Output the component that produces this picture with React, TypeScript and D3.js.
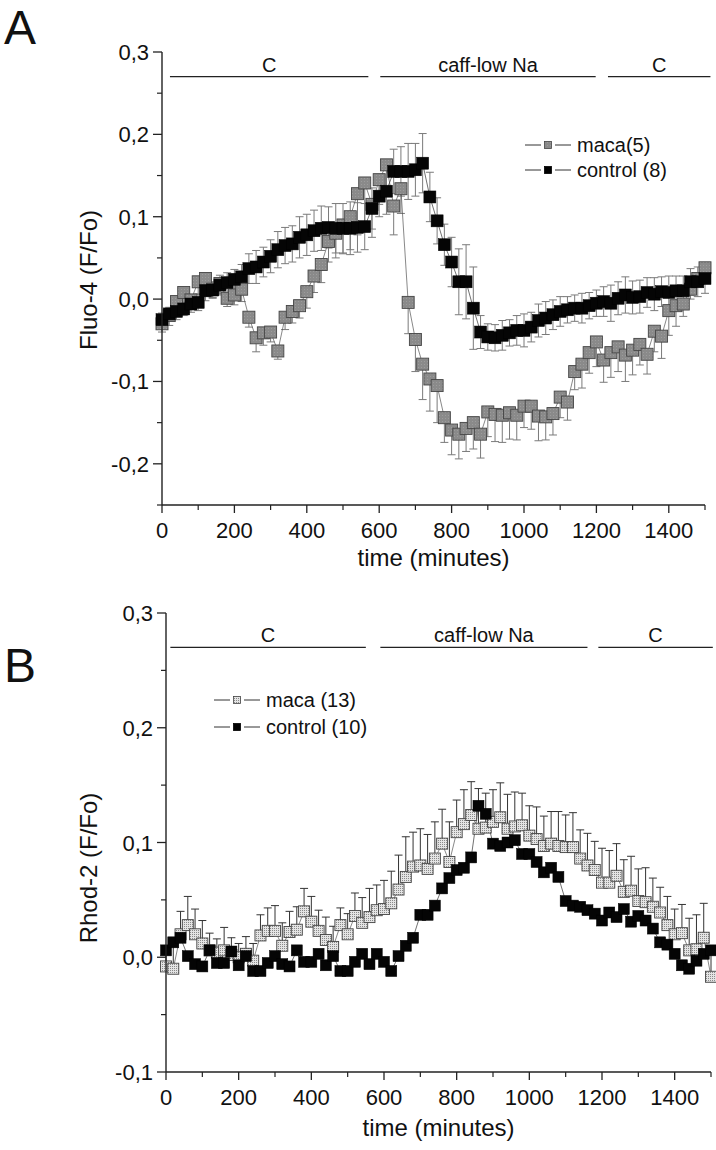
import React from "react";
import * as d3 from "d3";

const times = [0,20,40,60,80,100,120,140,160,180,200,220,240,260,280,300,320,340,360,380,400,420,440,460,480,500,520,540,560,580,600,620,640,660,680,700,720,740,760,780,800,820,840,860,880,900,920,940,960,980,1000,1020,1040,1060,1080,1100,1120,1140,1160,1180,1200,1220,1240,1260,1280,1300,1320,1340,1360,1380,1400,1420,1440,1460,1480,1500];

const macaA = [
  -0.030,-0.020,-0.003,0.008,-0.001,0.021,0.025,0.012,0.019,0.001,
  0.005,0.012,-0.022,-0.047,-0.041,-0.040,-0.063,-0.022,-0.015,-0.008,
  0.009,0.028,0.042,0.070,0.080,0.090,0.100,0.128,0.141,0.115,
  0.145,0.163,0.113,0.134,-0.004,-0.049,-0.079,-0.097,-0.105,-0.144,
  -0.159,-0.164,-0.157,-0.150,-0.164,-0.137,-0.140,-0.141,-0.138,-0.141,
  -0.130,-0.130,-0.142,-0.143,-0.139,-0.119,-0.125,-0.088,-0.079,-0.065,
  -0.052,-0.074,-0.065,-0.058,-0.068,-0.062,-0.055,-0.067,-0.039,-0.045,
  -0.014,-0.008,-0.006,0.012,0.025,0.038];
const macaErrA = [
  0.010,0.012,0.010,0.012,0.010,0.015,0.012,0.010,0.012,0.010,
  0.012,0.015,0.012,0.017,0.015,0.012,0.010,0.015,0.014,0.015,
  0.020,0.020,0.022,0.025,0.030,0.035,0.040,0.050,0.055,0.040,
  0.030,0.030,0.035,0.030,0.038,0.039,0.043,0.039,0.045,0.030,
  0.030,0.030,0.028,0.032,0.029,0.030,0.033,0.033,0.032,0.030,
  0.026,0.028,0.030,0.028,0.026,0.025,0.022,0.022,0.029,0.025,
  0.030,0.027,0.030,0.030,0.032,0.030,0.025,0.024,0.025,0.027,
  0.030,0.025,0.015,0.012,0.010,0.010];
const controlA = [
  -0.025,-0.018,-0.015,-0.012,-0.006,-0.004,0.010,0.011,0.017,0.020,
  0.024,0.027,0.037,0.039,0.045,0.052,0.060,0.065,0.067,0.075,
  0.078,0.083,0.086,0.087,0.086,0.086,0.086,0.087,0.088,0.110,
  0.125,0.131,0.155,0.155,0.155,0.157,0.165,0.124,0.095,0.066,
  0.045,0.021,0.021,-0.011,-0.040,-0.046,-0.047,-0.044,-0.041,-0.038,
  -0.038,-0.034,-0.026,-0.023,-0.019,-0.015,-0.013,-0.011,-0.011,-0.008,
  -0.005,-0.003,-0.005,0.001,0.005,0.002,0.003,0.008,0.006,0.009,
  0.008,0.010,0.010,0.021,0.021,0.025];
const controlErrA = [
  0.008,0.008,0.010,0.008,0.010,0.010,0.012,0.010,0.012,0.012,
  0.012,0.015,0.018,0.020,0.018,0.020,0.022,0.022,0.022,0.025,
  0.025,0.025,0.027,0.025,0.030,0.030,0.032,0.030,0.028,0.025,
  0.025,0.028,0.027,0.030,0.034,0.032,0.036,0.030,0.028,0.025,
  0.030,0.040,0.045,0.050,0.020,0.016,0.016,0.018,0.016,0.018,
  0.020,0.018,0.020,0.020,0.018,0.018,0.016,0.016,0.018,0.016,
  0.016,0.018,0.022,0.020,0.022,0.020,0.020,0.018,0.020,0.018,
  0.020,0.018,0.018,0.016,0.018,0.018];

const macaB = [
  -0.008,-0.010,0.020,0.028,0.020,0.012,0.006,0.004,0.006,0.002,
  0.000,0.003,-0.003,0.019,0.023,0.023,0.010,0.022,0.024,0.040,
  0.031,0.023,0.015,0.009,0.028,0.020,0.036,0.030,0.035,0.041,
  0.042,0.047,0.059,0.070,0.079,0.080,0.077,0.086,0.099,0.083,
  0.109,0.116,0.124,0.112,0.113,0.118,0.122,0.112,0.114,0.115,
  0.106,0.103,0.097,0.099,0.097,0.096,0.096,0.086,0.080,0.076,
  0.065,0.065,0.071,0.057,0.058,0.049,0.048,0.044,0.039,0.028,
  0.020,0.021,0.006,0.007,0.017,-0.017];
const macaErrB = [
  0.015,0.025,0.020,0.025,0.022,0.020,0.015,0.012,0.020,0.015,
  0.012,0.015,0.015,0.018,0.020,0.022,0.020,0.018,0.020,0.020,
  0.022,0.018,0.020,0.018,0.015,0.018,0.020,0.022,0.025,0.022,
  0.025,0.028,0.030,0.035,0.030,0.032,0.030,0.032,0.030,0.035,
  0.028,0.030,0.029,0.035,0.030,0.028,0.030,0.030,0.030,0.028,
  0.026,0.028,0.026,0.028,0.030,0.028,0.030,0.025,0.028,0.025,
  0.030,0.028,0.028,0.028,0.030,0.028,0.030,0.025,0.022,0.025,
  0.022,0.025,0.028,0.030,0.030,0.020];
const controlB = [
  0.006,0.013,0.017,0.001,-0.006,-0.008,0.006,-0.005,-0.005,0.005,
  -0.007,0.001,-0.012,-0.012,-0.005,0.001,-0.006,-0.008,0.006,-0.004,
  -0.004,0.003,-0.007,0.001,-0.012,-0.012,-0.004,0.003,-0.006,0.003,
  -0.004,-0.012,0.001,0.010,0.017,0.037,0.037,0.045,0.060,0.069,
  0.076,0.078,0.087,0.132,0.125,0.099,0.097,0.100,0.102,0.090,
  0.090,0.083,0.074,0.078,0.070,0.049,0.045,0.044,0.041,0.038,
  0.032,0.039,0.035,0.042,0.031,0.036,0.032,0.025,0.013,0.011,
  0.003,-0.007,-0.010,-0.003,0.003,0.006];

const xTicks = [0,200,400,600,800,1000,1200,1400];
const xMinorTicks = [100,300,500,700,900,1100,1300,1500];
const yTicksA = [-0.2,-0.1,0,0.1,0.2,0.3];
const yTickLabelsA = ["-0,2","-0,1","0,0","0,1","0,2","0,3"];
const yMinorA = [-0.25,-0.15,-0.05,0.05,0.15,0.25];
const yTicksB = [-0.1,0,0.1,0.2,0.3];
const yTickLabelsB = ["-0,1","0,0","0,1","0,2","0,3"];
const yMinorB = [-0.05,0.05,0.15,0.25];
const condLabels = ["C","caff-low Na","C"];
const condRangesA = [[22,570],[603,1198],[1232,1515]];
const condRangesB = [[12,550],[590,1160],[1190,1505]];
const condLevel = 0.27;

const FONT = "'Liberation Sans', Arial, sans-serif";

type PanelProps = {
  letter: string; letterY: number;
  x0: number; x1: number; yTop: number; yBot: number;
  yMin: number; yMax: number;
  yTicks: number[]; yLabels: string[]; yMinor: number[];
  yTitle: string; yTitleX: number; yTitleY: number; xTitleOff: number;
  condRanges: number[][];
  macaV: number[]; macaE: number[]; macaDir: number;
  ctrlV: number[]; ctrlE: number[] | null;
  macaFill: string; macaSize: number; ctrlSize: number; barColor: string;
  legend: string[]; legX: number; legY: number; legGap: number;
};

function Panel(p: PanelProps) {
  const x = d3.scaleLinear().domain([0, 1500]).range([p.x0, p.x1]);
  const y = d3.scaleLinear().domain([p.yMin, p.yMax]).range([p.yBot, p.yTop]);
  const line = d3.line<number>().x((_, i) => x(times[i])).y((v) => y(v));
  const cap = 4;
  const mh = p.macaSize / 2;
  const ch = p.ctrlSize / 2;
  return (
    <g fontFamily={FONT}>
      <text x={4} y={p.letterY} fontSize={48} fill="#111">{p.letter}</text>
      {p.condRanges.map((r, i) => (
        <g key={"c" + i}>
          <line x1={x(r[0])} x2={x(r[1])} y1={y(condLevel)} y2={y(condLevel)} stroke="#222" strokeWidth={1.3} />
          <text x={(x(r[0]) + x(r[1])) / 2} y={y(condLevel) - 5} fontSize={20} textAnchor="middle" fill="#111">{condLabels[i]}</text>
        </g>
      ))}
      {times.map((t, i) => {
        const yv = y(p.macaV[i]);
        const ye = y(p.macaV[i] + p.macaDir * p.macaE[i]);
        return (
          <g key={"me" + i} stroke={p.barColor} strokeWidth={1}>
            <line x1={x(t)} x2={x(t)} y1={yv} y2={ye} />
            <line x1={x(t) - cap} x2={x(t) + cap} y1={ye} y2={ye} />
          </g>
        );
      })}
      {p.ctrlE && times.map((t, i) => {
        const e = (p.ctrlE as number[])[i];
        const yu = y(p.ctrlV[i] + e);
        const yd = y(p.ctrlV[i] - e);
        return (
          <g key={"ce" + i} stroke={p.barColor} strokeWidth={1}>
            <line x1={x(t)} x2={x(t)} y1={yu} y2={yd} />
            <line x1={x(t) - cap} x2={x(t) + cap} y1={yu} y2={yu} />
            <line x1={x(t) - cap} x2={x(t) + cap} y1={yd} y2={yd} />
          </g>
        );
      })}
      <path d={line(p.macaV) || ""} fill="none" stroke="#555" strokeWidth={0.7} />
      <path d={line(p.ctrlV) || ""} fill="none" stroke="#333" strokeWidth={0.7} />
      {times.map((t, i) => (
        <rect key={"m" + i} x={x(t) - mh} y={y(p.macaV[i]) - mh} width={p.macaSize} height={p.macaSize}
          fill={p.macaFill} stroke="#444" strokeWidth={0.9} />
      ))}
      {times.map((t, i) => (
        <rect key={"k" + i} x={x(t) - ch} y={y(p.ctrlV[i]) - ch} width={p.ctrlSize} height={p.ctrlSize}
          fill="#050505" stroke="#000" strokeWidth={0.5} />
      ))}
      <line x1={p.x0} x2={p.x0} y1={p.yTop} y2={p.yBot} stroke="#222" strokeWidth={1.4} />
      <line x1={p.x0} x2={p.x1} y1={p.yBot} y2={p.yBot} stroke="#222" strokeWidth={1.4} />
      {p.yTicks.map((v, i) => (
        <g key={"yt" + i}>
          <line x1={p.x0 - 9} x2={p.x0} y1={y(v)} y2={y(v)} stroke="#222" strokeWidth={1.3} />
          <text x={p.x0 - 13} y={y(v) + 8} fontSize={22} textAnchor="end" fill="#111">{p.yLabels[i]}</text>
        </g>
      ))}
      {p.yMinor.map((v, i) => (
        <line key={"ym" + i} x1={p.x0 - 5} x2={p.x0} y1={y(v)} y2={y(v)} stroke="#222" strokeWidth={1.2} />
      ))}
      {xTicks.map((t, i) => (
        <g key={"xt" + i}>
          <line x1={x(t)} x2={x(t)} y1={p.yBot} y2={p.yBot + 8} stroke="#222" strokeWidth={1.3} />
          <text x={x(t)} y={p.yBot + 33} fontSize={22} textAnchor="middle" fill="#111">{t}</text>
        </g>
      ))}
      {xMinorTicks.map((t, i) => (
        <line key={"xm" + i} x1={x(t)} x2={x(t)} y1={p.yBot} y2={p.yBot + 5} stroke="#222" strokeWidth={1.2} />
      ))}
      <text x={(p.x0 + p.x1) / 2} y={p.yBot + p.xTitleOff} fontSize={24} textAnchor="middle" fill="#111">time (minutes)</text>
      <text transform={`translate(${p.yTitleX},${p.yTitleY}) rotate(-90)`} fontSize={24} textAnchor="middle" fill="#111">{p.yTitle}</text>
      {p.legend.map((lab, i) => {
        const ly = p.legY + i * p.legGap;
        const isM = i === 0;
        const s = 7;
        return (
          <g key={"l" + i}>
            <line x1={p.legX} x2={p.legX + 16} y1={ly} y2={ly} stroke="#333" strokeWidth={1} />
            <line x1={p.legX + 30} x2={p.legX + 46} y1={ly} y2={ly} stroke="#333" strokeWidth={1} />
            <rect x={p.legX + 23 - s / 2} y={ly - s / 2} width={s} height={s}
              fill={isM ? p.macaFill : "#000"} stroke={isM ? "#444" : "#000"} strokeWidth={0.8} />
            <text x={p.legX + 52} y={ly + 7} fontSize={20} fill="#111">{lab}</text>
          </g>
        );
      })}
    </g>
  );
}

export default function App() {
  return (
    <svg width={716} height={1150} style={{ position: "absolute", left: 0, top: 0, background: "#fff" }}>
      <defs>
        <pattern id="grid" width="2" height="2" patternUnits="userSpaceOnUse">
          <rect width="2" height="2" fill="#e4e4e4" />
          <rect width="1" height="1" fill="#8a8a8a" />
        </pattern>
        <pattern id="dots" width="3" height="3" patternUnits="userSpaceOnUse">
          <rect width="3" height="3" fill="#8a8a8a" />
          <rect x="1" y="1" width="1" height="1" fill="#9c9c9c" />
        </pattern>
      </defs>
      <rect width={716} height={1150} fill="#fff" />
      <Panel letter="A" letterY={44} x0={162} x1={705} yTop={52} yBot={505} yMin={-0.25} yMax={0.3}
        yTicks={yTicksA} yLabels={yTickLabelsA} yMinor={yMinorA} yTitle="Fluo-4 (F/Fo)" yTitleX={97} yTitleY={280} xTitleOff={61}
        condRanges={condRangesA} macaV={macaA} macaE={macaErrA} macaDir={-1}
        ctrlV={controlA} ctrlE={controlErrA} macaFill="url(#dots)" macaSize={12} ctrlSize={12} barColor="#7a7a7a"
        legend={["maca(5)", "control (8)"]} legX={525} legY={145} legGap={25} />
      <Panel letter="B" letterY={682} x0={166} x1={711} yTop={613} yBot={1072} yMin={-0.1} yMax={0.3}
        yTicks={yTicksB} yLabels={yTickLabelsB} yMinor={yMinorB} yTitle="Rhod-2 (F/Fo)" yTitleX={97} yTitleY={868} xTitleOff={64}
        condRanges={condRangesB} macaV={macaB} macaE={macaErrB} macaDir={1}
        ctrlV={controlB} ctrlE={null} macaFill="url(#grid)" macaSize={11} ctrlSize={11} barColor="#333"
        legend={["maca (13)", "control (10)"]} legX={214} legY={700} legGap={27} />
    </svg>
  );
}
